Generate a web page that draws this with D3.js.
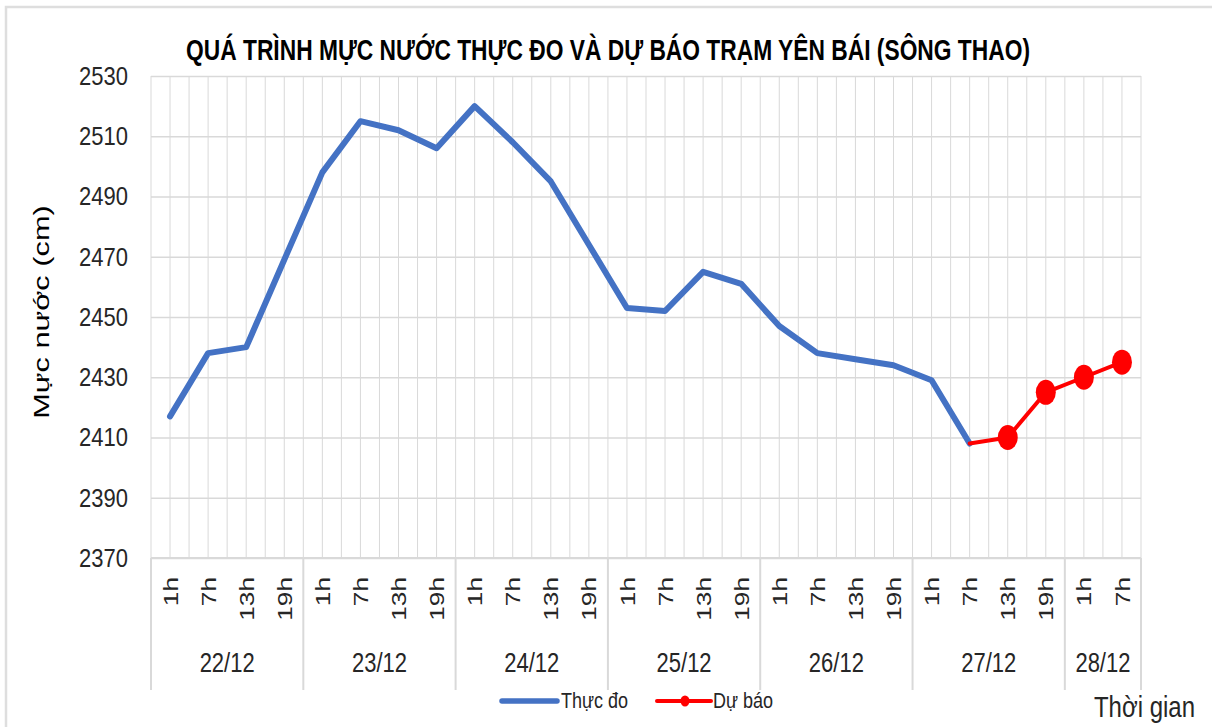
<!DOCTYPE html>
<html>
<head>
<meta charset="utf-8">
<script src="https://cdn.jsdelivr.net/npm/d3@7"></script>
<style>
  html, body { margin: 0; padding: 0; background: #fff; }
  svg { display: block; }
</style>
</head>
<body>
<div id="showBox"></div>
<script>
// categories
const dayLabels = ["22/12","22/12","22/12","22/12","23/12","23/12","23/12","23/12",
  "24/12","24/12","24/12","24/12","25/12","25/12","25/12","25/12",
  "26/12","26/12","26/12","26/12","27/12","27/12","27/12","27/12","28/12","28/12"];
const hourLabels = ["1h","7h","13h","19h","1h","7h","13h","19h","1h","7h","13h","19h",
  "1h","7h","13h","19h","1h","7h","13h","19h","1h","7h","13h","19h","1h","7h"];

// series
const thucDo = [2417,2438,2440,2469,2498,2515,2512,2506,2520,2508,2495,2474,
  2453,2452,2465,2461,2447,2438,2436,2434,2429,2408,null,null,null,null];
const duBao = [null,null,null,null,null,null,null,null,null,null,null,null,
  null,null,null,null,null,null,null,null,null,2408,2410,2425,2430,2435];

const yTicks = [2370,2390,2410,2430,2450,2470,2490,2510,2530];

const title = "QUÁ TRÌNH MỰC NƯỚC THỰC ĐO VÀ DỰ BÁO TRẠM YÊN BÁI (SÔNG THAO)";
const yTitle = "Mực nước (cm)";
const xTitle = "Thời gian";
const legendNames = ["Thực đo", "Dự báo"];

const W = 1212, H = 727;
const plotL = 151, plotR = 1141, plotT = 76, plotB = 558;
const font = "'Liberation Sans', Arial, sans-serif";
const txt = "#262626";
const grid = "#d9d9d9";
const blue = "#4472C4", red = "#FF0000";

const idx = d3.range(hourLabels.length);
const x = d3.scaleBand().domain(idx).range([plotL, plotR]).padding(0);
const y = d3.scaleLinear().domain([2370, 2530]).range([plotB, plotT]);
const bw = x.bandwidth();
const cx = i => x(i) + bw / 2;

const svg = d3.select("#showBox").append("svg")
  .attr("width", W).attr("height", H)
  .attr("font-family", font);

// outer frame
svg.append("path")
  .attr("d", `M6,${H} V7 H${W}`)
  .attr("fill", "none").attr("stroke", "#dedede").attr("stroke-width", 2.5);

// vertical gridlines (band edges and centers)
const vLines = [];
idx.forEach(i => { vLines.push(x(i)); vLines.push(cx(i)); });
vLines.push(plotR);
svg.append("g")
  .attr("stroke", grid).attr("stroke-width", 1)
  .selectAll("line").data(vLines).join("line")
  .attr("x1", d => d).attr("x2", d => d)
  .attr("y1", plotT).attr("y2", plotB);

// horizontal gridlines
svg.append("g")
  .attr("transform", `translate(${plotL},0)`)
  .call(d3.axisLeft(y).tickValues(yTicks).tickSize(-(plotR - plotL)).tickFormat(""))
  .call(g => g.select(".domain").remove())
  .call(g => g.selectAll("line").attr("stroke", grid).attr("stroke-width", 1.5));

// y axis labels
svg.append("g")
  .attr("transform", `translate(${plotL},0)`)
  .call(d3.axisLeft(y).tickValues(yTicks).tickSize(0).tickPadding(23).tickFormat(d3.format("d")))
  .call(g => g.select(".domain").remove())
  .call(g => g.selectAll("text")
    .attr("font-family", font).attr("font-size", 22).attr("fill", txt)
    .attr("transform", "scale(1,1.2)"));

// category axis: baseline and group separators
svg.append("line")
  .attr("x1", plotL).attr("x2", plotR).attr("y1", plotB).attr("y2", plotB)
  .attr("stroke", grid).attr("stroke-width", 2);

const groups = d3.groups(idx, i => dayLabels[i]);
const seps = groups.map(([, ii]) => x(ii[0]));
seps.push(plotR);
svg.append("g")
  .attr("stroke", grid).attr("stroke-width", 2)
  .selectAll("line").data(seps).join("line")
  .attr("x1", d => d).attr("x2", d => d)
  .attr("y1", plotB).attr("y2", 690);

// hour labels (rotated)
svg.append("g")
  .selectAll("text").data(idx).join("text")
  .attr("transform", i => `translate(${cx(i)},577) scale(1,1.25) rotate(-90)`)
  .attr("text-anchor", "end")
  .attr("dy", "0.36em")
  .attr("font-size", 21).attr("fill", txt)
  .text(i => hourLabels[i]);

// day labels
svg.append("g")
  .selectAll("text").data(groups).join("text")
  .attr("transform", ([, ii]) => {
    const mid = (x(ii[0]) + x(ii[ii.length - 1]) + bw) / 2;
    return `translate(${mid},672) scale(1,1.25)`;
  })
  .attr("text-anchor", "middle")
  .attr("font-size", 22).attr("fill", txt)
  .text(([d]) => d);

// lines
const line = d3.line()
  .defined(d => d[1] != null)
  .x(d => cx(d[0])).y(d => y(d[1]));

svg.append("path")
  .datum(thucDo.map((v, i) => [i, v]))
  .attr("fill", "none").attr("stroke", blue).attr("stroke-width", 6)
  .attr("stroke-linejoin", "round").attr("stroke-linecap", "round")
  .attr("d", line);

svg.append("path")
  .datum(duBao.map((v, i) => [i, v]))
  .attr("fill", "none").attr("stroke", red).attr("stroke-width", 4)
  .attr("stroke-linejoin", "round").attr("stroke-linecap", "round")
  .attr("d", line);

svg.append("g")
  .selectAll("ellipse")
  .data(duBao.map((v, i) => [i, v]).filter((d, k) => d[1] != null && k > 21))
  .join("ellipse")
  .attr("cx", d => cx(d[0])).attr("cy", d => y(d[1]))
  .attr("rx", 10).attr("ry", 12.5)
  .attr("fill", red);

// title
svg.append("text")
  .attr("transform", "translate(608,60) scale(1,1.35)")
  .attr("text-anchor", "middle")
  .attr("font-weight", "bold").attr("font-size", 22).attr("fill", "#000")
  .attr("textLength", 844).attr("lengthAdjust", "spacingAndGlyphs")
  .text(title);

// y axis title
svg.append("text")
  .attr("transform", "translate(49,312) scale(1,1.4) rotate(-90)")
  .attr("text-anchor", "middle")
  .attr("font-size", 22).attr("fill", "#000")
  .text(yTitle);

// x axis title
svg.append("text")
  .attr("transform", "translate(1195,717) scale(1,1.2)")
  .attr("text-anchor", "end")
  .attr("font-size", 24).attr("fill", txt)
  .text(xTitle);

// legend
const lg = svg.append("g").attr("font-size", 18).attr("fill", txt);
lg.append("line").attr("x1", 502).attr("x2", 557).attr("y1", 701).attr("y2", 701)
  .attr("stroke", blue).attr("stroke-width", 5.5).attr("stroke-linecap", "round");
lg.append("text").attr("transform", "translate(561,708) scale(1,1.2)").text(legendNames[0]);
lg.append("line").attr("x1", 657).attr("x2", 711).attr("y1", 701).attr("y2", 701)
  .attr("stroke", red).attr("stroke-width", 4).attr("stroke-linecap", "round");
lg.append("ellipse").attr("cx", 685).attr("cy", 701).attr("rx", 4.5).attr("ry", 5.5).attr("fill", red);
lg.append("text").attr("transform", "translate(713,708) scale(1,1.2)").text(legendNames[1]);
</script>
</body>
</html>
